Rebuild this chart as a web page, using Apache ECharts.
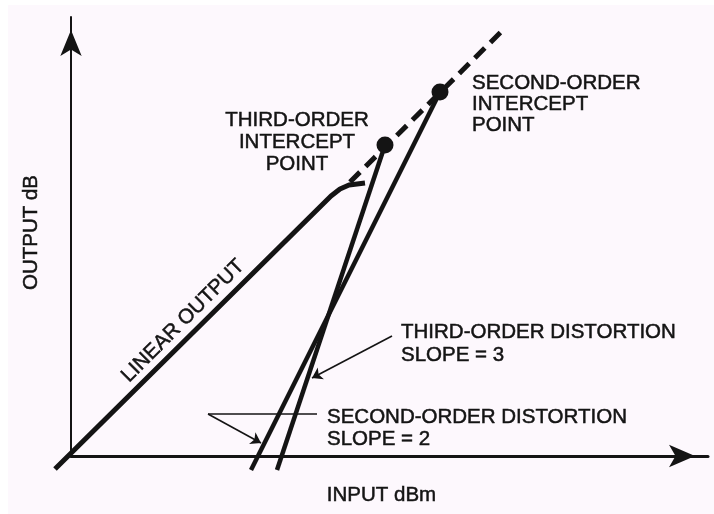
<!DOCTYPE html>
<html>
<head>
<meta charset="utf-8">
<script src="https://cdn.jsdelivr.net/npm/echarts@6/dist/echarts.min.js"></script>
<style>
  html, body { margin: 0; padding: 0; background: #ffffff; }
  #chart { width: 714px; height: 514px; }
</style>
</head>
<body>
<div id="chart"></div>
<script>
// intercept diagram: input dBm vs output dB (schematic, arbitrary units)
const linearOut = [[-1.6, -1.3], [26.0, 26.0], [26.9, 26.7], [27.8, 27.1], [29.4, 27.3]];
const extrapolated = [[27.9, 27.4], [43.2, 42.6]];
const thirdOrder = [[20.6, -1.4], [31.4, 31.1]];   // slope = 3
const secondOrder = [[18.0, -1.4], [36.9, 36.4]];  // slope = 2
const interceptPoints = [[31.4, 31.1], [36.9, 36.4]];
const thirdArrow = [[32.1, 12.0], [24.1, 7.8]];
const secondBar = [[13.7, 4.2], [24.6, 4.2]];
const secondArrow = [[13.7, 4.2], [19.0, 1.3]];

const ink = '#141414';
const font = "'Liberation Sans', Arial, sans-serif";
const fs = 20.5;

const chart = echarts.init(document.getElementById('chart'));

// text helper, a thin stroke makes the glyphs a bit heavier like the scan
function note(x, y, text, align, lineHeight, rotation) {
  return {
    type: 'text', x: x, y: y, rotation: rotation || 0,
    style: {
      text: text, font: fs + 'px ' + font, fill: ink,
      stroke: ink, lineWidth: 0.5,
      align: align, verticalAlign: 'middle', lineHeight: lineHeight || 22
    }
  };
}

let option = {
  backgroundColor: '#fdf8fd',
  animation: false,
  grid: { left: 71, right: 6, top: 17, bottom: 58 },
  xAxis: {
    type: 'value',
    min: 0,
    max: 63.7,
    name: 'INPUT dBm',
    nameLocation: 'middle',
    nameGap: 29,
    nameTextStyle: { color: ink, fontSize: fs, fontFamily: font, padding: [0, 16, 0, 0], textBorderColor: ink, textBorderWidth: 0.5 },
    axisLine: {
      symbol: ['none', 'arrow'],
      symbolSize: [17, 26],
      symbolOffset: [0, -13],
      lineStyle: { color: ink, width: 3 }
    },
    axisTick: { show: false },
    axisLabel: { show: false },
    splitLine: { show: false }
  },
  yAxis: {
    type: 'value',
    min: 0,
    max: 43.9,
    name: 'OUTPUT dB',
    nameLocation: 'middle',
    nameGap: 29,
    nameRotate: 90,
    nameTextStyle: { color: ink, fontSize: fs, fontFamily: font, padding: [0, 0, 0, 8], textBorderColor: ink, textBorderWidth: 0.5 },
    axisLine: {
      symbol: ['none', 'arrow'],
      symbolSize: [16, 26],
      symbolOffset: [0, -13],
      lineStyle: { color: ink, width: 2 }
    },
    axisTick: { show: false },
    axisLabel: { show: false },
    splitLine: { show: false }
  },
  graphic: [
    { type: 'rect', shape: { x: 0, y: 0, width: 714, height: 5 }, style: { fill: '#ffffff' } },
    { type: 'rect', shape: { x: 0, y: 0, width: 8, height: 514 }, style: { fill: '#ffffff' } },
    note(183, 321, 'LINEAR OUTPUT', 'center', 22, Math.PI / 4),
    note(297, 142, 'THIRD-ORDER\nINTERCEPT\nPOINT', 'center', 22),
    note(472, 104, 'SECOND-ORDER\nINTERCEPT\nPOINT', 'left', 21),
    note(401, 344, 'THIRD-ORDER DISTORTION\nSLOPE = 3', 'left', 23),
    note(327, 428, 'SECOND-ORDER DISTORTION\nSLOPE = 2', 'left', 22)
  ],
  series: [
    {
      name: 'linear',
      type: 'lines',
      coordinateSystem: 'cartesian2d',
      polyline: true,
      clip: false,
      lineStyle: { color: ink, width: 5, opacity: 1, join: 'round' },
      data: [{ coords: linearOut }]
    },
    {
      name: 'extrapolated',
      type: 'line',
      data: extrapolated,
      clip: false,
      showSymbol: false,
      lineStyle: { color: ink, width: 5, type: [14, 8] }
    },
    {
      name: 'third order',
      type: 'line',
      data: thirdOrder,
      clip: false,
      showSymbol: false,
      lineStyle: { color: ink, width: 4.5 }
    },
    {
      name: 'second order',
      type: 'line',
      data: secondOrder,
      clip: false,
      showSymbol: false,
      lineStyle: { color: ink, width: 4.5 }
    },
    {
      name: 'intercepts',
      type: 'scatter',
      data: interceptPoints,
      symbolSize: 17,
      itemStyle: { color: ink, opacity: 1 },
      z: 5
    },
    {
      name: 'callouts',
      type: 'lines',
      coordinateSystem: 'cartesian2d',
      symbol: ['none', 'arrow'],
      symbolSize: 10,
      lineStyle: { color: ink, width: 1.6, opacity: 1 },
      data: [{ coords: thirdArrow }, { coords: secondArrow }]
    },
    {
      name: 'bar',
      type: 'lines',
      coordinateSystem: 'cartesian2d',
      symbol: 'none',
      lineStyle: { color: ink, width: 1.6, opacity: 1 },
      data: [{ coords: secondBar }]
    }
  ]
};

chart.setOption(option);
</script>
</body>
</html>
